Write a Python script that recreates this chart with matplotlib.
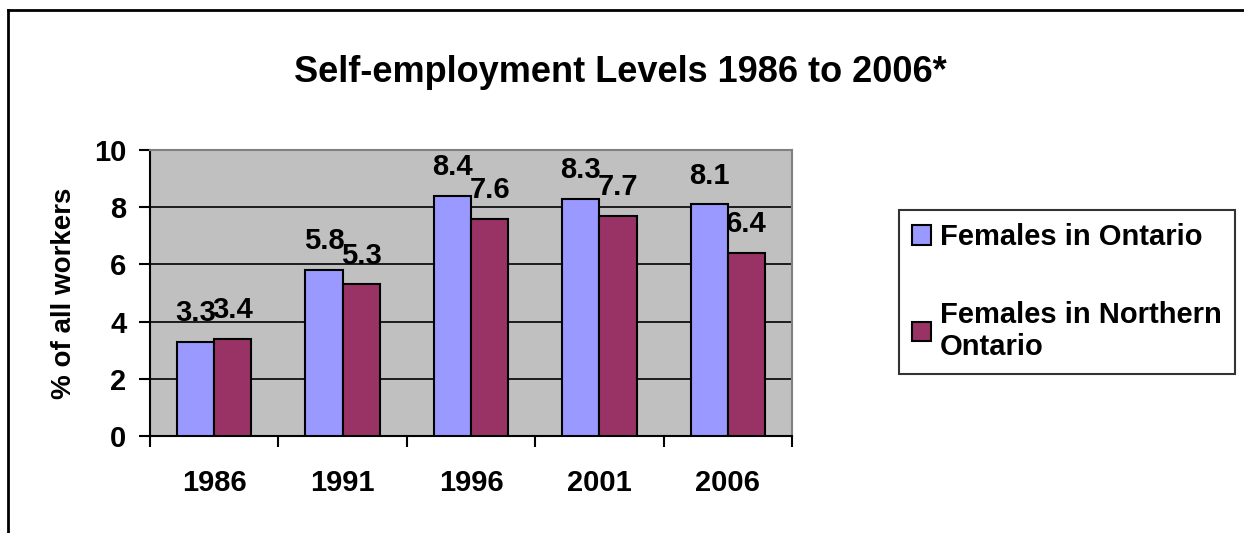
import matplotlib
matplotlib.use('Agg')
import matplotlib.pyplot as plt
from matplotlib.lines import Line2D
import numpy as np

years = ['1986', '1991', '1996', '2001', '2006']
ontario = [3.3, 5.8, 8.4, 8.3, 8.1]
northern = [3.4, 5.3, 7.6, 7.7, 6.4]
series_names = ['Females in Ontario', 'Females in Northern\nOntario']

plt.rcParams['font.family'] = ['Liberation Sans', 'DejaVu Sans']
plt.rcParams['font.weight'] = 'bold'

fig = plt.figure(figsize=(12.44, 5.33), dpi=100)
ax = fig.add_axes([150 / 1244, 1 - 436 / 533, 642 / 1244, 286 / 533])
ax.set_facecolor('#C0C0C0')

x = np.arange(len(years))
w = 0.29
b1 = ax.bar(x - w / 2, ontario, w, color='#9999FF', edgecolor='black', linewidth=1.5,
            label=series_names[0], zorder=3)
b2 = ax.bar(x + w / 2, northern, w, color='#993366', edgecolor='black', linewidth=1.5,
            label=series_names[1], zorder=3)

for bars, vals in ((b1, ontario), (b2, northern)):
    for r, v in zip(bars, vals):
        ax.annotate(f'{v}', (r.get_x() + r.get_width() / 2, v), xytext=(0, 15),
                    textcoords='offset points', ha='center', va='baseline',
                    fontsize=21, fontweight='bold', zorder=5)

ax.set_xlim(-0.5, len(years) - 0.5)
ax.set_ylim(0, 10)
ax.set_yticks([0, 2, 4, 6, 8, 10])
ax.yaxis.grid(True, color='black', linewidth=1.2, zorder=1)
ax.set_axisbelow(True)

ax.set_xticks(np.arange(-0.5, len(years), 1.0))
ax.set_xticklabels([])
ax.set_xticks(x, minor=True)
ax.set_xticklabels(years, minor=True)
ax.tick_params(axis='x', which='minor', length=0, pad=24, labelsize=21)
ax.tick_params(axis='x', which='major', length=8, width=1.5, direction='out')
ax.tick_params(axis='y', length=8, width=1.5, direction='out', labelsize=21, pad=9)
for lab in ax.get_xticklabels(minor=True) + ax.get_yticklabels():
    lab.set_fontweight('bold')

ax.spines['left'].set_linewidth(1.5)
ax.spines['bottom'].set_linewidth(1.5)
ax.spines['top'].set_color('#808080')
ax.spines['right'].set_color('#808080')
ax.spines['top'].set_linewidth(1.5)
ax.spines['right'].set_linewidth(1.5)

ax.set_ylabel('% of all workers', fontsize=20, fontweight='bold', labelpad=12)

fig.text(620 / 1244, 1 - 73 / 533, 'Self-employment Levels 1986 to 2006*',
         ha='center', va='center', fontsize=26, fontweight='bold')

leg = fig.legend(loc='upper left', bbox_to_anchor=(899 / 1244, 1 - 210 / 533),
                 fontsize=21, frameon=True, fancybox=False, edgecolor='black',
                 handlelength=0.65, handleheight=0.65, handletextpad=0.3,
                 labelspacing=1.7, borderpad=0.45, borderaxespad=0)
leg.get_frame().set_linewidth(1.5)
for t in leg.get_texts():
    t.set_fontweight('bold')

# outer chart frame
fig.add_artist(Line2D([8 / 1244, 8 / 1244], [0, 1 - 10 / 533], color='black', linewidth=2))
fig.add_artist(Line2D([8 / 1244, 1], [1 - 10 / 533, 1 - 10 / 533], color='black', linewidth=2))

fig.savefig('out.png', dpi=100)
